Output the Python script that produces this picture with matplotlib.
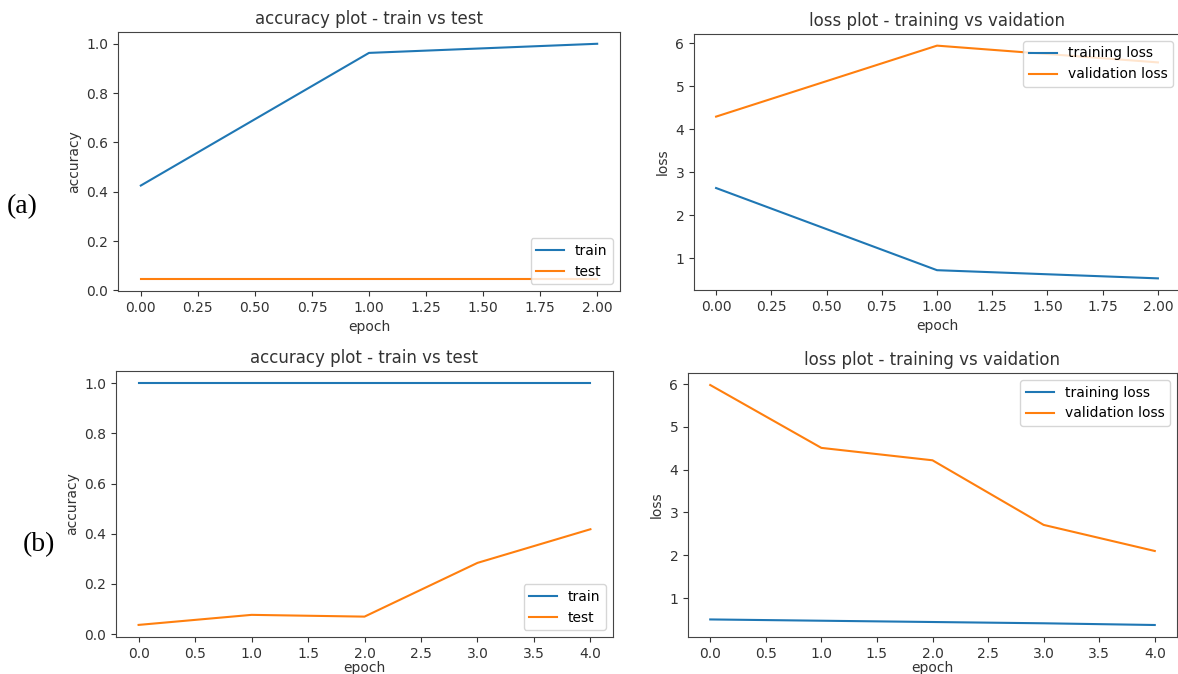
import matplotlib
matplotlib.use("Agg")
import matplotlib.pyplot as plt
import numpy as np

# (a) - 3 epochs
epochs_a = np.array([0, 1, 2])
train_acc_a = [0.425, 0.963, 1.0]
test_acc_a = [0.045, 0.045, 0.045]
train_loss_a = [2.63, 0.72, 0.53]
val_loss_a = [4.29, 5.94, 5.55]

# (b) - 5 epochs
epochs_b = np.array([0, 1, 2, 3, 4])
train_acc_b = [1.0, 1.0, 1.0, 1.0, 1.0]
test_acc_b = [0.037, 0.077, 0.070, 0.284, 0.418]
train_loss_b = [0.50, 0.47, 0.44, 0.41, 0.37]
val_loss_b = [5.98, 4.51, 4.22, 2.71, 2.10]

W, H = 1178, 674
fig = plt.figure(figsize=(W / 100, H / 100), dpi=100)


def axes_px(left, top, right, bottom):
    # pixel box -> figure fraction
    return fig.add_axes([left / W, 1 - bottom / H, (right - left) / W, (bottom - top) / H])


def style(ax, pad=4):
    for s in ax.spines.values():
        s.set_color("#444444")
    ax.tick_params(colors="#333333", labelsize=10)
    ax.xaxis.labelpad = pad


# accuracy (a)
ax = axes_px(118, 32, 620, 291)
ax.plot(epochs_a, train_acc_a, label="train")
ax.plot(epochs_a, test_acc_a, label="test")
ax.set_xticks(np.arange(0, 2.01, 0.25))
ax.set_title("accuracy plot - train vs test", fontsize=12, color="#333333")
ax.set_xlabel("epoch", color="#333333")
ax.set_ylabel("accuracy", color="#333333")
ax.legend(loc="lower right")
style(ax)

# loss (a)
ax = axes_px(694, 34, 1180, 290)
ax.plot(epochs_a, train_loss_a, label="training loss")
ax.plot(epochs_a, val_loss_a, label="validation loss")
ax.set_xticks(np.arange(0, 2.01, 0.25))
ax.set_title("loss plot - training vs vaidation", fontsize=12, color="#333333")
ax.set_xlabel("epoch", color="#333333")
ax.set_ylabel("loss", color="#333333")
ax.legend(loc="upper right")
style(ax)

# accuracy (b)
ax = axes_px(116, 371, 613, 637)
ax.plot(epochs_b, train_acc_b, label="train")
ax.plot(epochs_b, test_acc_b, label="test")
ax.set_xticks(np.arange(0, 4.01, 0.5))
ax.set_title("accuracy plot - train vs test", fontsize=12, color="#333333")
ax.set_xlabel("epoch", color="#333333")
ax.set_ylabel("accuracy", color="#333333")
ax.legend(loc="lower right")
style(ax, pad=0)

# loss (b)
ax = axes_px(688, 373, 1177, 637)
ax.plot(epochs_b, train_loss_b, label="training loss")
ax.plot(epochs_b, val_loss_b, label="validation loss")
ax.set_xticks(np.arange(0, 4.01, 0.5))
ax.set_title("loss plot - training vs vaidation", fontsize=12, color="#333333")
ax.set_xlabel("epoch", color="#333333")
ax.set_ylabel("loss", color="#333333")
ax.legend(loc="upper right")
style(ax, pad=0)

# panel labels
fig.text(7 / W, 1 - 207 / H, "(a)", family="Liberation Serif", fontsize=20, va="center", ha="left")
fig.text(23 / W, 1 - 545 / H, "(b)", family="Liberation Serif", fontsize=20, va="center", ha="left")

fig.savefig("out.png", dpi=100)
